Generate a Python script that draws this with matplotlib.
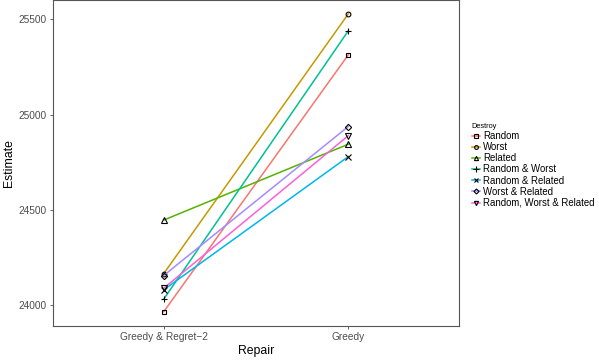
import matplotlib
matplotlib.use("Agg")
import matplotlib.pyplot as plt

plt.rcParams['font.family'] = ['Liberation Sans', 'DejaVu Sans']

repair = ["Greedy & Regret\u22122", "Greedy"]
destroy = ["Random", "Worst", "Related", "Random & Worst", "Random & Related",
           "Worst & Related", "Random, Worst & Related"]
est_regret = [23965, 24165, 24446, 24031, 24080, 24155, 24088]
est_greedy = [25313, 25528, 24844, 25439, 24779, 24937, 24889]

colors = ["#F8766D", "#C49A00", "#53B400", "#00C094", "#00B6EB", "#A58AFF", "#FB61D7"]
markers = ["s", "o", "^", "+", "x", "D", "v"]
msizes = [3.2, 3.4, 3.8, 5, 4, 3.2, 3.8]

fig = plt.figure(figsize=(5.99, 3.6), dpi=100)
ax = fig.add_axes([53/599, 34/360, 406/599, 326/360])

xs = [1, 2]
for i, name in enumerate(destroy):
    ax.plot(xs, [est_regret[i], est_greedy[i]], color=colors[i], lw=1.1,
            marker=markers[i], ms=msizes[i], mfc='none', mec='black', mew=0.8,
            label=name)

ax.set_xlim(0.4, 2.6)
ax.set_ylim(23890, 25601)
ax.set_xticks(xs)
ax.set_xticklabels(repair)
ax.set_yticks([24000, 24500, 25000, 25500])
ax.tick_params(colors='#4D4D4D', labelsize=7.3, length=2.5, width=0.6, pad=2)
for s in ax.spines.values():
    s.set_color('#555555')
    s.set_linewidth(0.8)
ax.set_xlabel("Repair", fontsize=8.8, labelpad=2)
ax.set_ylabel("Estimate", fontsize=8.8)
ax.yaxis.set_label_coords(-0.094, 0.5)

leg = ax.legend(title="Destroy", loc='upper left', bbox_to_anchor=(1.022, 0.635),
                frameon=False, fontsize=6.9, title_fontsize=5.3, handlelength=0.9,
                handletextpad=0.25, labelspacing=0.12, borderaxespad=0,
                markerscale=0.8)
leg._legend_box.align = "left"

fig.savefig("out.png", dpi=100)
